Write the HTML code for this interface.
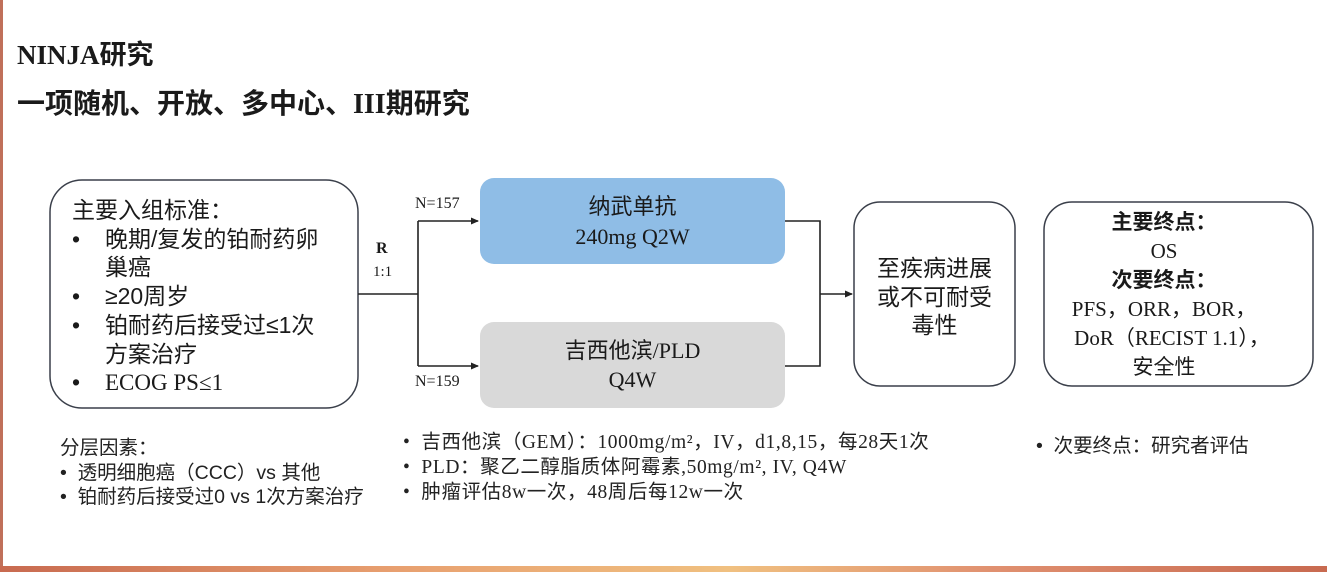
<!DOCTYPE html>
<html><head><meta charset="utf-8"><style>
html,body{margin:0;padding:0;}
body{width:1327px;height:572px;position:relative;overflow:hidden;background:#fff;font-family:"Liberation Serif","Noto Sans CJK SC",serif;color:#1a1a1a;}
.t{position:absolute;white-space:nowrap;line-height:1;}
.s{font-family:"Liberation Serif","Noto Sans CJK SC",serif;}
.c{text-align:center;}
</style></head><body>
<div style="position:absolute;left:0;top:0;width:3px;height:572px;background:#c0705a;"></div>
<div style="position:absolute;left:0;top:566px;width:1327px;height:6px;background:linear-gradient(90deg,#c86a50,#e8a070 30%,#f0c080 55%,#e09070 75%,#c86a50);"></div>

<div class="t" style="left:17px;top:42px;font-size:27px;font-weight:bold;">NINJA研究</div>
<div class="t" style="left:17px;top:91px;font-size:28px;font-weight:bold;">一项随机、开放、多中心、III期研究</div>

<svg width="1327" height="572" style="position:absolute;left:0;top:0;">
<defs><marker id="a" markerWidth="8" markerHeight="8" refX="7" refY="4" orient="auto" markerUnits="userSpaceOnUse"><path d="M0,0.5 L8,4 L0,7.5 Z" fill="#222"/></marker></defs>
<rect x="50" y="180" width="308" height="228" rx="32" fill="#fff" stroke="#3a3f4a" stroke-width="1.5"/>
<rect x="480" y="178" width="305" height="86" rx="14" fill="#8fbde6"/>
<rect x="480" y="322" width="305" height="86" rx="14" fill="#d9d9d9"/>
<rect x="854" y="202" width="161" height="184" rx="26" fill="#fff" stroke="#3a3f4a" stroke-width="1.5"/>
<rect x="1044" y="202" width="269" height="184" rx="28" fill="#fff" stroke="#3a3f4a" stroke-width="1.5"/>
<g stroke="#222" stroke-width="1.6" fill="none">
<path d="M358,294 H418"/>
<path d="M418,221 V366"/>
<path d="M418,221 H478" marker-end="url(#a)"/>
<path d="M418,366 H478" marker-end="url(#a)"/>
<path d="M785,221 H820 V366 H785"/>
<path d="M820,294 H852" marker-end="url(#a)"/>
</g>
</svg>

<div style="position:absolute;left:72px;top:196px;font-size:23px;line-height:28.7px;font-family:'Liberation Sans','Noto Sans CJK SC',sans-serif;">
<div>主要入组标准：</div>
<div><span style="display:inline-block;width:33px;">•</span>晚期/复发的铂耐药卵</div>
<div><span style="display:inline-block;width:33px;"></span>巢癌</div>
<div><span style="display:inline-block;width:33px;">•</span>≥20周岁</div>
<div><span style="display:inline-block;width:33px;">•</span>铂耐药后接受过≤1次</div>
<div><span style="display:inline-block;width:33px;"></span>方案治疗</div>
<div><span style="display:inline-block;width:33px;">•</span><span class="s">ECOG PS≤1</span></div>
</div>

<div class="t" style="left:376px;top:241px;font-size:16px;font-weight:bold;">R</div>
<div class="t" style="left:373px;top:265px;font-size:15px;">1:1</div>
<div class="t" style="left:415px;top:196px;font-size:16px;">N=157</div>
<div class="t" style="left:415px;top:374px;font-size:16px;">N=159</div>

<div class="t c" style="left:480px;width:305px;top:196px;font-size:22px;font-family:'Liberation Sans','Noto Sans CJK SC',sans-serif;">纳武单抗</div>
<div class="t c" style="left:480px;width:305px;top:226px;font-size:22px;">240mg Q2W</div>
<div class="t c" style="left:480px;width:305px;top:340px;font-size:22px;">吉西他滨/PLD</div>
<div class="t c" style="left:480px;width:305px;top:369px;font-size:22px;">Q4W</div>

<div class="c" style="position:absolute;left:854px;width:161px;top:254px;font-size:23px;line-height:28.5px;font-family:'Liberation Sans','Noto Sans CJK SC',sans-serif;">至疾病进展<br>或不可耐受<br>毒性</div>

<div class="c" style="position:absolute;left:1044px;width:240px;top:208px;font-size:21px;line-height:29px;">
<div style="font-weight:bold;font-family:'Liberation Sans','Noto Sans CJK SC',sans-serif;">主要终点：</div>
<div>OS</div>
<div style="font-weight:bold;font-family:'Liberation Sans','Noto Sans CJK SC',sans-serif;">次要终点：</div>
<div>PFS，ORR，BOR，</div>
<div style="margin-left:16px;">DoR（RECIST 1.1），</div>
<div>安全性</div>
</div>

<div style="position:absolute;left:60px;top:436px;font-size:19.5px;line-height:24.5px;font-family:'Liberation Sans','Noto Sans CJK SC',sans-serif;color:#222;">
<div>分层因素：</div>
<div>•&nbsp;&nbsp;透明细胞癌（CCC）vs 其他</div>
<div>•&nbsp;&nbsp;铂耐药后接受过0 vs 1次方案治疗</div>
</div>

<div style="position:absolute;left:403px;top:430px;font-size:19.5px;letter-spacing:0.6px;line-height:25px;color:#222;">
<div>•&nbsp;&nbsp;吉西他滨（GEM）：1000mg/m²，IV，d1,8,15，每28天1次</div>
<div>•&nbsp;&nbsp;PLD：聚乙二醇脂质体阿霉素,50mg/m², IV, Q4W</div>
<div>•&nbsp;&nbsp;肿瘤评估8w一次，48周后每12w一次</div>
</div>

<div class="t" style="left:1036px;top:437px;font-size:19.5px;font-family:'Liberation Sans','Noto Sans CJK SC',sans-serif;color:#222;">•&nbsp;&nbsp;次要终点：研究者评估</div>
</body></html>
